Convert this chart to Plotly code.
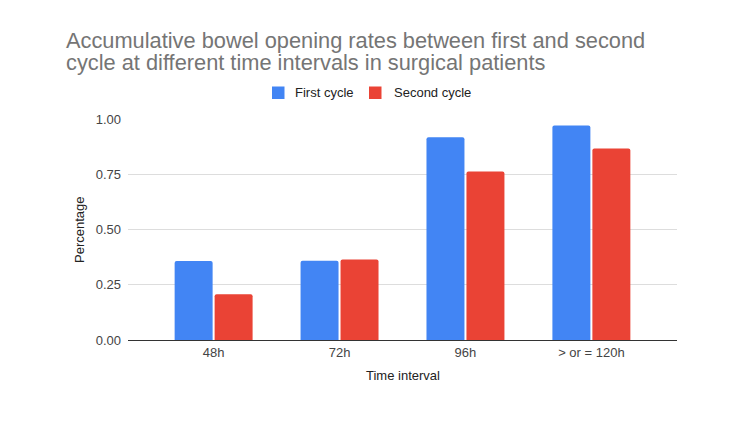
import plotly.graph_objects as go

categories = ["48h", "72h", "96h", "> or = 120h"]
first_cycle = [0.358, 0.359, 0.917, 0.971]
second_cycle = [0.207, 0.364, 0.763, 0.867]
y_ticks = [0, 0.25, 0.5, 0.75, 1.0]
y_tick_labels = ["0.00", "0.25", "0.50", "0.75", "1.00"]
series_names = ["First cycle", "Second cycle"]
series_colors = ["#4285F4", "#EA4335"]
title_lines = ["Accumulative bowel opening rates between first and second",
               "cycle at different time intervals in surgical patients"]

W, H = 750, 422
L, R, T, B = 128, 73, 119, 82
PW, PH = W - L - R, H - T - B


def px(x):
    return (x - L) / PW


def py(y):
    return (H - B - y) / PH


fig = go.Figure()
for name, vals, col in zip(series_names, [first_cycle, second_cycle], series_colors):
    fig.add_trace(go.Bar(x=categories, y=vals, name=name,
                         marker=dict(color=col, cornerradius=2, line=dict(width=0))))

annotations = [
    dict(text="Percentage", textangle=-90, xref="paper", yref="paper",
         x=px(70), y=0.5, showarrow=False, font=dict(size=13, color="#222222")),
    dict(text="Time interval", xref="paper", yref="paper",
         x=px(403), y=py(385), showarrow=False, font=dict(size=13, color="#222222")),
]
for i, line in enumerate(title_lines):
    annotations.append(dict(text=line, xref="paper", yref="paper", x=px(64), y=py(41 + 21.5 * i),
                            xanchor="left", yanchor="middle", showarrow=False,
                            font=dict(size=21.8, color="#757575")))

# manual legend
shapes = []
legend_items = [(272, 293), (369, 392)]
for (bx, tx), name, col in zip(legend_items, series_names, series_colors):
    shapes.append(dict(type="rect", xref="paper", yref="paper",
                       x0=px(bx), x1=px(bx + 12.5), y0=py(99), y1=py(86.5),
                       fillcolor=col, line=dict(width=0)))
    annotations.append(dict(text=name, xref="paper", yref="paper", x=px(tx), y=py(92.7),
                            xanchor="left", yanchor="middle", showarrow=False,
                            font=dict(size=13, color="#222222")))

fig.update_layout(
    width=W, height=H,
    margin=dict(l=L, r=R, t=T, b=B),
    paper_bgcolor="white", plot_bgcolor="white",
    font=dict(family="Liberation Sans, Arial, sans-serif", color="#222222", size=13),
    barmode="group", bargap=0.365, bargroupgap=0.05,
    showlegend=False,
    xaxis=dict(range=[-0.68, 3.68], showgrid=False, showline=True, linecolor="#333333",
               linewidth=1, ticks="", tickfont=dict(size=13, color="#444444")),
    yaxis=dict(range=[0, 1.0], tickvals=y_ticks, ticktext=y_tick_labels,
               showgrid=True, gridcolor="#dddddd", gridwidth=1, zeroline=False,
               showline=False, ticks="", tickfont=dict(size=13, color="#444444"),
               ticklabelstandoff=6),
    annotations=annotations,
    shapes=shapes,
)

fig.write_html("out.html")
